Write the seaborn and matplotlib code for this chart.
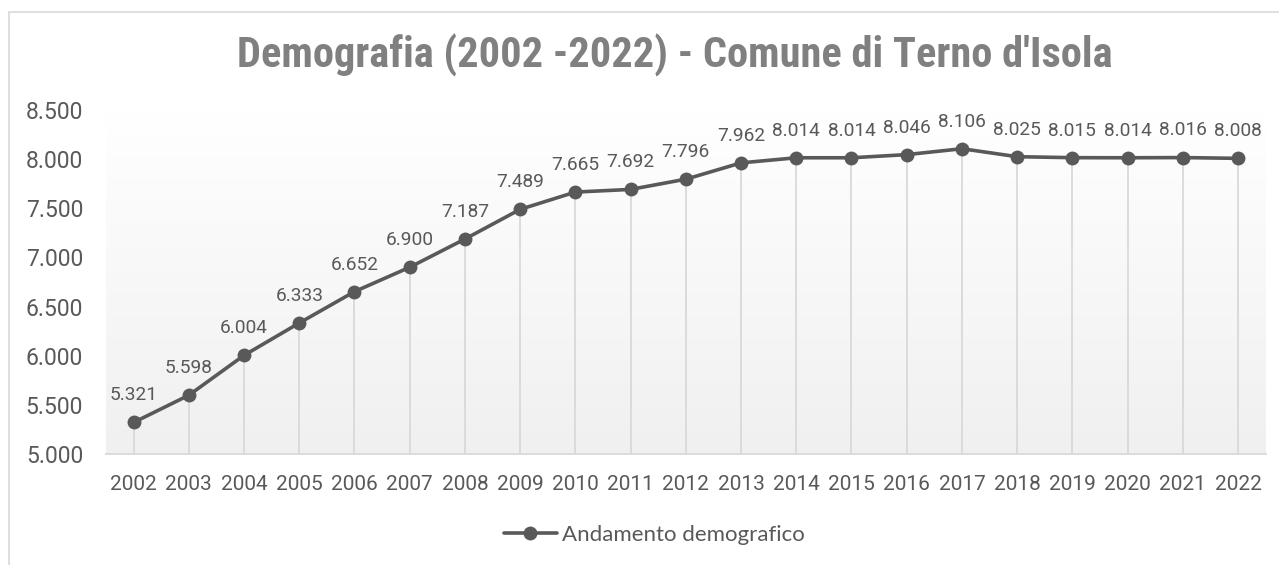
import numpy as np
import pandas as pd
import matplotlib
matplotlib.use("Agg")
import matplotlib.pyplot as plt
from matplotlib.lines import Line2D
import seaborn as sns

# Population series
years = [2002, 2003, 2004, 2005, 2006, 2007, 2008, 2009, 2010, 2011, 2012,
         2013, 2014, 2015, 2016, 2017, 2018, 2019, 2020, 2021, 2022]
population = [5321, 5598, 6004, 6333, 6652, 6900, 7187, 7489, 7665, 7692, 7796,
              7962, 8014, 8014, 8046, 8106, 8025, 8015, 8014, 8016, 8008]
y_ticks = [5000, 5500, 6000, 6500, 7000, 7500, 8000, 8500]
title = "Demografia (2002 -2022) - Comune di Terno d'Isola"
series_name = "Andamento demografico"

sns.set_theme(style="white")
plt.rcParams["font.family"] = ["Roboto", "DejaVu Sans"]

W, H = 1279, 565
fig = plt.figure(figsize=(W / 100, H / 100), dpi=100)
fig.patch.set_facecolor("white")

# outer chart frame (top and left edges)
fig.add_artist(Line2D([9 / W, 1.0], [1 - 12 / H, 1 - 12 / H], color="#d9d9d9", lw=1.2))
fig.add_artist(Line2D([9 / W, 9 / W], [0.0, 1 - 12 / H], color="#d9d9d9", lw=1.2))

left, right = 106 / W, 1265.6 / W
bottom, top = 1 - 454 / H, 1 - 110 / H
ax = fig.add_axes([left, bottom, right - left, top - bottom])

df = pd.DataFrame({"idx": np.arange(len(years)), "year": years, "pop": population})

ax.set_xlim(-0.5, len(years) - 0.5)
ax.set_ylim(y_ticks[0], y_ticks[-1])

# vertical gradient background in the plot area
grad = np.linspace(1.0, 0.0, 256).reshape(-1, 1)
top_c = np.array([1.0, 1.0, 1.0])
bot_c = np.array([0xf0, 0xf0, 0xf0]) / 255
img = top_c[None, None, :] * grad[:, :, None] + bot_c[None, None, :] * (1 - grad[:, :, None])
ax.imshow(img, extent=[-0.5, len(years) - 0.5, y_ticks[0], y_ticks[-1]],
          aspect="auto", zorder=0, interpolation="bicubic")

# drop lines from each point down to the axis
ax.vlines(df["idx"], y_ticks[0], df["pop"], color="#d9d9d9", lw=1.3, zorder=1)

sns.lineplot(data=df, x="idx", y="pop", ax=ax, color="#595959", lw=2.6,
             marker="o", markersize=10, markeredgewidth=0, zorder=3,
             label=series_name, legend=False)

for i, v in zip(df["idx"], df["pop"]):
    ax.annotate(f"{v:,}".replace(",", "."), (i, v), xytext=(0, 19.5),
                textcoords="offset points", ha="center", va="center",
                fontsize=13.8, color="#595959")

ax.set_xticks(df["idx"])
ax.set_xticklabels([str(y) for y in years])
ax.set_yticks(y_ticks)
ax.set_yticklabels([f"{t:,}".replace(",", ".") for t in y_ticks])
ax.tick_params(axis="x", length=0, pad=15, labelsize=15, labelcolor="#595959")
ax.tick_params(axis="y", length=0, pad=16.5, labelsize=16.5, labelcolor="#595959")
for lab in ax.get_yticklabels():
    lab.set_horizontalalignment("right")
ax.set_xlabel("")
ax.set_ylabel("")
for s in ["top", "right", "left"]:
    ax.spines[s].set_visible(False)
ax.spines["bottom"].set_color("#d9d9d9")
ax.spines["bottom"].set_linewidth(1.3)
ax.grid(False)

fig.text(675 / W, 1 - 55 / H, title, ha="center", va="center",
         fontsize=30.5, fontweight="bold", color="#808080",
         family=["Roboto Condensed", "Roboto", "DejaVu Sans"])

handle = Line2D([], [], color="#595959", lw=2.6, marker="o", markersize=10,
                markeredgewidth=0)
fig.legend([handle], [series_name], loc="center", bbox_to_anchor=(654 / W, 1 - 535 / H),
           frameon=False, handlelength=2.4, handletextpad=0.2,
           prop={"family": ["Lato", "DejaVu Sans"], "size": 16}, labelcolor="#595959")

fig.savefig("out.png", dpi=100, facecolor="white")
